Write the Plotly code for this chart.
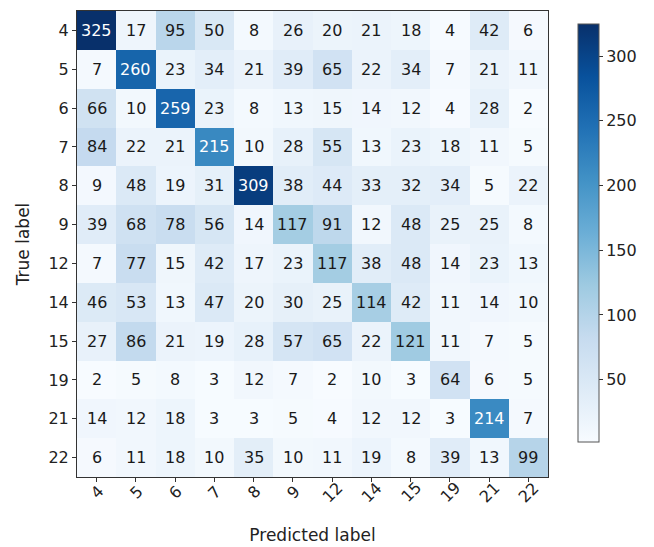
import plotly.graph_objects as go

labels = ["4", "5", "6", "7", "8", "9", "12", "14", "15", "19", "21", "22"]
matrix = [
    [325, 17, 95, 50, 8, 26, 20, 21, 18, 4, 42, 6],
    [7, 260, 23, 34, 21, 39, 65, 22, 34, 7, 21, 11],
    [66, 10, 259, 23, 8, 13, 15, 14, 12, 4, 28, 2],
    [84, 22, 21, 215, 10, 28, 55, 13, 23, 18, 11, 5],
    [9, 48, 19, 31, 309, 38, 44, 33, 32, 34, 5, 22],
    [39, 68, 78, 56, 14, 117, 91, 12, 48, 25, 25, 8],
    [7, 77, 15, 42, 17, 23, 117, 38, 48, 14, 23, 13],
    [46, 53, 13, 47, 20, 30, 25, 114, 42, 11, 14, 10],
    [27, 86, 21, 19, 28, 57, 65, 22, 121, 11, 7, 5],
    [2, 5, 8, 3, 12, 7, 2, 10, 3, 64, 6, 5],
    [14, 12, 18, 3, 3, 5, 4, 12, 12, 3, 214, 7],
    [6, 11, 18, 10, 35, 10, 11, 19, 8, 39, 13, 99],
]
cbar_ticks = [50, 100, 150, 200, 250, 300]

blues = ["#f7fbff", "#deebf7", "#c6dbef", "#9ecae1", "#6baed6",
         "#4292c6", "#2171b5", "#08519c", "#08306b"]
colorscale = [[i / (len(blues) - 1), c] for i, c in enumerate(blues)]

n = len(labels)
idx = list(range(n))
vmax = max(max(r) for r in matrix)
vmin = min(min(r) for r in matrix)
thresh = vmax / 2.0

FONT = "DejaVu Sans"
fs = 16
fs_title = 17

fig = go.Figure(go.Heatmap(
    z=matrix, x=idx, y=idx, colorscale=colorscale, zmin=vmin, zmax=vmax,
    xgap=0, ygap=0, hoverinfo="z",
    colorbar=dict(
        x=1.0637, xanchor="left", xref="paper", xpad=0, ypad=0,
        y=0.524, yanchor="middle", len=0.896, lenmode="fraction",
        thickness=21, thicknessmode="pixels",
        outlinecolor="#555555", outlinewidth=1,
        tickvals=cbar_ticks, ticks="outside", ticklen=4, tickcolor="#333333",
        tickfont=dict(family=FONT, size=fs, color="#222222"),
    ),
))

annotations = []
for i in range(n):
    for j in range(n):
        v = matrix[i][j]
        annotations.append(dict(
            x=j, y=i, xref="x", yref="y", text=str(v), showarrow=False,
            font=dict(family=FONT, size=fs, color="white" if v > thresh else "#1a1a1a"),
        ))
for j, lab in enumerate(labels):
    annotations.append(dict(
        x=j, y=0, xref="x", yref="paper", yshift=-15, text=lab, showarrow=False,
        textangle=-45, xanchor="center", yanchor="middle",
        font=dict(family=FONT, size=fs, color="#222222"),
    ))

fig.update_layout(
    width=654, height=547,
    margin=dict(l=77, r=106, t=10, b=66),
    paper_bgcolor="white", plot_bgcolor="white",
    font=dict(family=FONT, size=fs, color="#222222"),
    annotations=annotations,
    xaxis=dict(
        range=[-0.5, n - 0.5], tickvals=idx, ticktext=[""] * n,
        ticks="outside", ticklen=4, tickcolor="#333333",
        showgrid=False, zeroline=False,
        showline=True, linecolor="#333333", linewidth=1, mirror=True,
        title=dict(text="Predicted label", font=dict(family=FONT, size=fs_title), standoff=44),
    ),
    yaxis=dict(
        range=[n - 0.5, -0.5], tickvals=idx, ticktext=labels,
        ticks="outside", ticklen=4, tickcolor="#333333",
        tickfont=dict(family=FONT, size=fs),
        showgrid=False, zeroline=False,
        showline=True, linecolor="#333333", linewidth=1, mirror=True,
        title=dict(text="True label", font=dict(family=FONT, size=fs_title), standoff=14),
    ),
)

fig.write_html("out.html")
